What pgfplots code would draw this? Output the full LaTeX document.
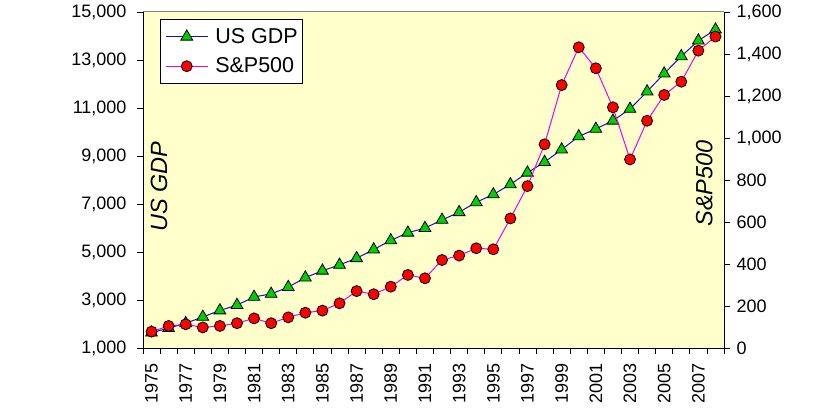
\documentclass[border=0pt]{standalone}
\usepackage{pgfplots}
\pgfplotsset{compat=1.18}
\usepackage{pgfplotstable}
\usepackage{fontspec}
\setmainfont{Liberation Sans}
\definecolor{bgyellow}{HTML}{FFFFCC}
\definecolor{gdpline}{HTML}{1010D0}
\definecolor{spline}{HTML}{F000F0}
\definecolor{trigreen}{HTML}{00D000}
\definecolor{circred}{HTML}{FF0000}
\pgfplotstableread{
idx year gdp sp
0 1975 1638 78
1 1976 1825 105
2 1977 2031 113
3 1978 2295 98
4 1979 2563 105
5 1980 2789 118
6 1981 3128 141
7 1982 3255 118
8 1983 3537 146
9 1984 3933 168
10 1985 4220 178
11 1986 4463 213
12 1987 4740 271
13 1988 5104 256
14 1989 5484 292
15 1990 5803 348
16 1991 5996 332
17 1992 6338 419
18 1993 6657 440
19 1994 7072 475
20 1995 7398 470
21 1996 7817 617
22 1997 8304 771
23 1998 8747 970
24 1999 9268 1252
25 2000 9817 1432
26 2001 10128 1332
27 2002 10470 1146
28 2003 10961 898
29 2004 11686 1082
30 2005 12434 1205
31 2006 13155 1268
32 2007 13808 1416
33 2008 14265 1483
}\data
\pgfplotsset{
  common/.style={
    at={(143bp,64bp)}, anchor=south west, scale only axis,
    width=581bp, height=336bp,
    xmin=-0.5, xmax=33.5,
    tick align=outside,
    major tick length=6bp, minor tick length=6bp,
    tick style={black, line width=0.8bp},
    axis line style={black, line width=0.8bp},
    tick label style={font=\fontsize{18bp}{21bp}\selectfont},
    scaled y ticks=false,
    /pgf/number format/.cd, fixed, precision=0, 1000 sep={,}, assume math mode=true,
  },
  gdpstyle/.style={color=gdpline, line width=1bp, mark=triangle*, mark size=6.8bp,
    mark options={fill=trigreen, draw=black, line width=0.8bp}},
  spstyle/.style={color=spline, line width=1bp, mark=*, mark size=5.5bp,
    mark options={fill=circred, draw=black, line width=0.8bp}},
}
\begin{document}
\begin{tikzpicture}
\path[use as bounding box] (0,0) rectangle (822bp,412bp);
\begin{axis}[common,
  ymin=1000, ymax=15000,
  ytick={1000,3000,...,15000},
  axis x line*=bottom, axis y line*=left,
  axis background/.style={fill=bgyellow},
  xtick={0,2,...,32},
  xticklabels={1975,1977,1979,1981,1983,1985,1987,1989,1991,1993,1995,1997,1999,2001,2003,2005,2007},
  major x tick style={draw=none},
  minor xtick={-0.5,0.5,...,33.5},
  xticklabel style={rotate=90, anchor=east, xshift=-6bp},
  yticklabel style={xshift=-7bp},
  legend style={at={(rel axis cs:0.029,0.979)}, anchor=north west, draw=black, fill=white,
    line width=0.8bp, font=\fontsize{21.5bp}{26bp}\selectfont, inner xsep=5bp, inner ysep=9bp,
    row sep=13bp, nodes={inner sep=0bp},
    /tikz/every odd column/.append style={column sep=7bp}},
  legend cell align=left,
  legend image code/.code={\draw[mark repeat=2,mark phase=2,#1] plot coordinates {(0bp,0bp)(21bp,0bp)(42bp,0bp)};},
]
\draw[gray, line width=1bp] (rel axis cs:0,1) -- (rel axis cs:1,1);
\addplot[gdpstyle] table[x=idx,y=gdp]{\data};
\addlegendentry{US GDP}
\addlegendimage{spstyle}
\addlegendentry{S\&P500}
\node[rotate=90, font=\fontsize{23.5bp}{28bp}\selectfont\itshape] at (rel axis cs:0.0275,0.48) {US GDP};
\end{axis}
\begin{axis}[common,
  ymin=0, ymax=1600,
  ytick={0,200,...,1600},
  yticklabel style={xshift=3bp},
  axis y line*=right, axis x line=none,
]
\addplot[spstyle] table[x=idx,y=sp]{\data};
\node[rotate=90, font=\fontsize{23.5bp}{28bp}\selectfont\itshape] at (rel axis cs:0.966,0.49) {S\&P500};
\end{axis}
\end{tikzpicture}
\end{document}
